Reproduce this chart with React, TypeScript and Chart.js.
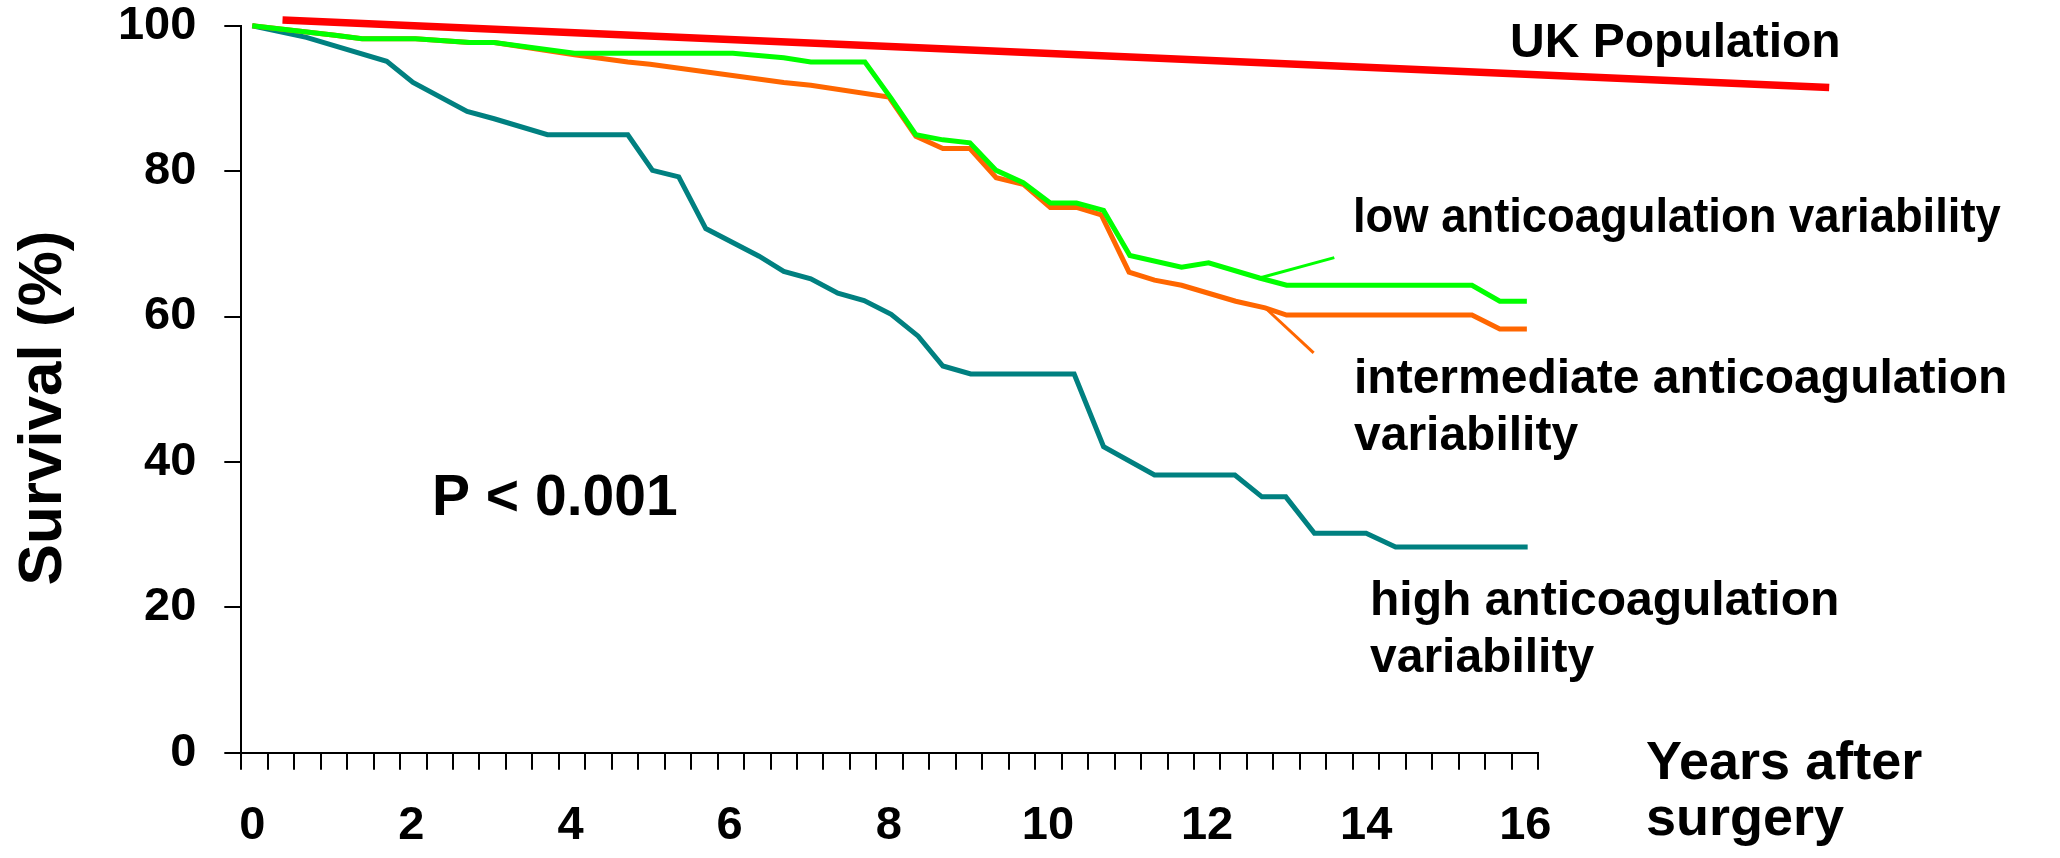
import React, { useEffect, useRef } from 'react';
import { Chart, registerables } from 'chart.js';

Chart.register(...registerables);

// ---- Data (years after surgery, survival %) ----
const highYears = [0, 0.34, 0.68, 1.69, 2.02, 2.7, 3.04, 3.71, 4.72, 5.03, 5.36, 5.7, 6.37, 6.68, 7.02, 7.36, 7.69, 8.03, 8.37, 8.68, 9.03, 10.33, 10.7, 11.34, 12.35, 12.69, 12.99, 13.35, 14.0, 14.37, 16.03];
const highSurvival = [100, 99.2, 98.4, 95.1, 92.2, 88.2, 87.2, 85.0, 85.0, 80.1, 79.2, 72.1, 68.3, 66.2, 65.2, 63.2, 62.2, 60.3, 57.3, 53.2, 52.1, 52.1, 42.1, 38.2, 38.2, 35.2, 35.2, 30.2, 30.2, 28.3, 28.3];

const lowYears = [0, 1.04, 1.38, 2.05, 2.73, 3.04, 4.05, 6.04, 6.68, 7.02, 7.7, 8.03, 8.34, 8.68, 9.02, 9.35, 9.69, 10.03, 10.36, 10.7, 11.03, 11.68, 12.02, 12.66, 13.0, 15.33, 15.68, 16.02];
const lowSurvival = [100, 98.7, 98.2, 98.2, 97.7, 97.7, 96.2, 96.2, 95.6, 95.0, 95.0, 90.0, 85.0, 84.3, 83.9, 80.1, 78.4, 75.6, 75.6, 74.6, 68.4, 66.8, 67.4, 65.3, 64.3, 64.3, 62.1, 62.1];

const intermediateYears = [0, 1.04, 1.38, 2.05, 2.73, 3.04, 4.05, 4.72, 5.0, 6.68, 7.02, 8.0, 8.34, 8.68, 9.02, 9.35, 9.69, 10.03, 10.36, 10.67, 11.02, 11.34, 11.68, 12.36, 12.73, 13.0, 15.33, 15.68, 16.02];
const intermediateSurvival = [100, 98.7, 98.2, 98.2, 97.7, 97.7, 96.0, 95.0, 94.7, 92.2, 91.8, 90.2, 84.8, 83.1, 83.1, 79.1, 78.2, 75.0, 75.0, 74.0, 66.1, 65.0, 64.3, 62.1, 61.2, 60.2, 60.2, 58.3, 58.3];

const ukYears = [0.38, 19.82];
const ukSurvival = [100.8, 91.5];

const lowPointerYears = [12.66, 13.6];
const lowPointerSurvival = [65.3, 68.1];
const intermediatePointerYears = [12.75, 13.34];
const intermediatePointerSurvival = [61.0, 55.0];

const xTickLabels = [0, 2, 4, 6, 8, 10, 12, 14, 16];
const yTickValues = [0, 20, 40, 60, 80, 100];

const X_MIN = -0.138;
const X_MAX = 16.16;
const MINOR_TICK_COUNT = 50;

const FONT = '"Liberation Sans", Arial, Helvetica, sans-serif';

const pts = (xs: number[], ys: number[]) => xs.map((x, i) => ({ x, y: ys[i] }));

const textPlugin = {
  id: 'annotText',
  afterDraw(chart: any) {
    const ctx = chart.ctx;
    ctx.save();
    ctx.fillStyle = '#000';
    ctx.textBaseline = 'alphabetic';
    ctx.textAlign = 'left';
    ctx.font = `bold 48px ${FONT}`;
    ctx.fillText('UK Population', 1510, 57);
    ctx.save();
    ctx.translate(1353, 232);
    ctx.scale(0.945, 1);
    ctx.fillText('low anticoagulation variability', 0, 0);
    ctx.restore();
    ctx.fillText('intermediate anticoagulation', 1354, 393);
    ctx.fillText('variability', 1354, 450);
    ctx.fillText('high anticoagulation', 1370, 615);
    ctx.fillText('variability', 1370, 672);
    ctx.font = `bold 57px ${FONT}`;
    ctx.fillText('P < 0.001', 432, 515);
    ctx.font = `bold 54px ${FONT}`;
    ctx.fillText('Years after', 1646, 779);
    ctx.fillText('surgery', 1646, 835);
    ctx.font = `bold 62px ${FONT}`;
    ctx.translate(61, 408);
    ctx.rotate(-Math.PI / 2);
    ctx.textAlign = 'center';
    ctx.fillText('Survival (%)', 0, 0);
    ctx.restore();
  },
};

export default function App() {
  const ref = useRef<HTMLCanvasElement | null>(null);

  useEffect(() => {
    if (!ref.current) return;
    const line = (data: any, color: string, width: number) => ({
      data,
      borderColor: color,
      backgroundColor: color,
      borderWidth: width,
      pointRadius: 0,
      tension: 0,
      fill: false,
      clip: false as any,
    });
    const chart = new Chart(ref.current, {
      type: 'line',
      data: {
        datasets: [
          line(pts(lowYears, lowSurvival), '#00FF00', 5),
          line(pts(lowPointerYears, lowPointerSurvival), '#00FF00', 3),
          line(pts(intermediateYears, intermediateSurvival), '#FF6600', 5),
          line(pts(intermediatePointerYears, intermediatePointerSurvival), '#FF6600', 3),
          line(pts(highYears, highSurvival), '#008080', 5),
          line(pts(ukYears, ukSurvival), '#FF0000', 7.5),
        ],
      },
      options: {
        responsive: false,
        devicePixelRatio: 1,
        animation: false,
        layout: { padding: { left: 0, right: 2060 - 1538, top: 25.7, bottom: 0 } },
        plugins: { legend: { display: false }, tooltip: { enabled: false } },
        scales: {
          x: {
            type: 'linear',
            position: 'bottom',
            min: X_MIN,
            max: X_MAX,
            afterBuildTicks: (scale: any) => {
              const ticks = [];
              for (let k = 0; k < MINOR_TICK_COUNT; k++) {
                ticks.push({ value: X_MIN + (k * (X_MAX - X_MIN)) / (MINOR_TICK_COUNT - 1) });
              }
              scale.ticks = ticks;
            },
            afterFit: (scale: any) => {
              scale.height = 17;
              scale.paddingLeft = 0;
              scale.paddingRight = 0;
            },
            grid: { display: true, drawOnChartArea: false, drawTicks: true, tickLength: 17, color: '#000', lineWidth: 2 },
            border: { display: true, color: '#000', width: 2 },
            ticks: { display: false, autoSkip: false },
          },
          x2: {
            type: 'linear',
            position: 'bottom',
            min: X_MIN,
            max: X_MAX,
            afterBuildTicks: (scale: any) => {
              scale.ticks = xTickLabels.map((v) => ({ value: v }));
            },
            afterFit: (scale: any) => {
              scale.height = 858 - 752.8 - 17;
              scale.paddingLeft = 0;
              scale.paddingRight = 0;
            },
            grid: { display: false, drawTicks: false },
            border: { display: false },
            ticks: {
              autoSkip: false,
              maxRotation: 0,
              padding: 28,
              color: '#000',
              font: { family: FONT, size: 47, weight: 'bold' },
              callback: (v: any) => String(v),
            },
          },
          y: {
            type: 'linear',
            position: 'left',
            min: 0,
            max: 100,
            afterBuildTicks: (scale: any) => {
              scale.ticks = yTickValues.map((v) => ({ value: v }));
            },
            afterFit: (scale: any) => {
              scale.width = 241.3;
              scale.paddingTop = 0;
              scale.paddingBottom = 0;
            },
            grid: { display: true, drawOnChartArea: false, drawTicks: true, tickLength: 17, color: '#000', lineWidth: 2 },
            border: { display: true, color: '#000', width: 2 },
            ticks: {
              autoSkip: false,
              padding: 28,
              color: '#000',
              font: { family: FONT, size: 47, weight: 'bold' },
            },
          },
        },
      } as any,
      plugins: [textPlugin],
    });
    return () => chart.destroy();
  }, []);

  return (
    <div style={{ position: 'absolute', left: 0, top: 0, width: 2060, height: 858, background: '#fff' }}>
      <canvas ref={ref} width={2060} height={858} style={{ width: 2060, height: 858, display: 'block' }} />
    </div>
  );
}
